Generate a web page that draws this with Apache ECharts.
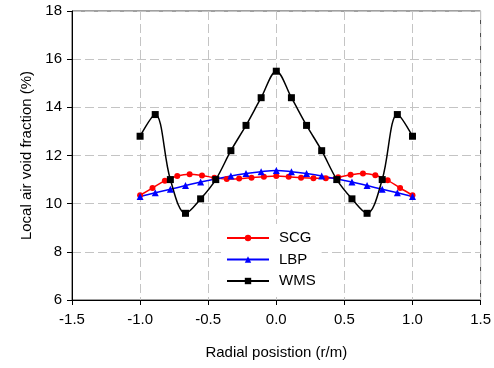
<!DOCTYPE html>
<html>
<head>
<meta charset="utf-8">
<script src="https://cdn.jsdelivr.net/npm/echarts@6/dist/echarts.min.js"></script>
<style>html,body{margin:0;padding:0;background:#fff}#c{width:494px;height:368px}</style>
</head>
<body>
<div id="c"></div>
<script>
// x positions: SCG uses 23 points (step 1/11), LBP and WMS use 19 points (step 1/9)
const xSCG = [-1, -10/11, -9/11, -8/11, -7/11, -6/11, -5/11, -4/11, -3/11, -2/11, -1/11, 0,
              1/11, 2/11, 3/11, 4/11, 5/11, 6/11, 7/11, 8/11, 9/11, 10/11, 1];
const ySCG = [10.35, 10.65, 10.95, 11.15, 11.22, 11.17, 11.08, 11.02, 11.04, 11.08, 11.12, 11.15,
              11.12, 11.08, 11.06, 11.06, 11.1, 11.2, 11.25, 11.18, 10.97, 10.65, 10.35];
const x19 = [-1, -8/9, -7/9, -6/9, -5/9, -4/9, -3/9, -2/9, -1/9, 0,
             1/9, 2/9, 3/9, 4/9, 5/9, 6/9, 7/9, 8/9, 1];
const yLBP = [10.3, 10.45, 10.6, 10.75, 10.9, 11.02, 11.15, 11.25, 11.33, 11.38,
              11.33, 11.25, 11.15, 11.02, 10.9, 10.75, 10.6, 10.45, 10.3];
const yWMS = [12.8, 13.7, 11.0, 9.6, 10.2, 11.0, 12.2, 13.25, 14.4, 15.5,
              14.4, 13.25, 12.2, 11.0, 10.2, 9.6, 11.0, 13.7, 12.8];
const seriesNames = ['SCG', 'LBP', 'WMS'];
const xTitle = 'Radial posistion (r/m)';
const yTitle = 'Local air void fraction (%)';

const zip = (xs, ys) => xs.map((x, i) => [x, ys[i]]);
const font = 'Liberation Sans, Arial, sans-serif';
const chart = echarts.init(document.getElementById('c'));
chart.setOption({
  animation: false,
  backgroundColor: '#fff',
  grid: {left: 72, right: 13, top: 11, bottom: 68, show: true, borderColor: '#404040', borderWidth: 1},
  xAxis: {
    type: 'value', min: -1.5, max: 1.5, interval: 0.5,
    name: xTitle, nameLocation: 'middle', nameGap: 45,
    nameTextStyle: {fontFamily: font, fontSize: 15, color: '#000'},
    axisLine: {show: true, onZero: false, lineStyle: {color: '#000', width: 1}},
    axisTick: {show: true, length: 5, lineStyle: {color: '#000'}},
    axisLabel: {fontFamily: font, fontSize: 15, color: '#000', margin: 12,
      formatter: v => v.toFixed(1)},
    splitLine: {show: true, lineStyle: {color: '#c4c4c4', type: [9, 4], width: 1}}
  },
  yAxis: {
    type: 'value', min: 6, max: 18, interval: 2,
    name: yTitle, nameLocation: 'middle', nameGap: 38, nameRotate: 90,
    nameTextStyle: {fontFamily: font, fontSize: 15, color: '#000'},
    axisLine: {show: true, onZero: false, lineStyle: {color: '#000', width: 1}},
    axisTick: {show: true, length: 5, lineStyle: {color: '#000'}},
    axisLabel: {fontFamily: font, fontSize: 15, color: '#000', margin: 10},
    splitLine: {show: true, lineStyle: {color: '#c4c4c4', type: [9, 4], width: 1}}
  },
  legend: {
    left: 221, top: 224, orient: 'vertical', padding: [6, 6, 6, 5],
    backgroundColor: '#fff',
    itemWidth: 42, itemHeight: 8, itemGap: 5.5,
    textStyle: {fontFamily: font, fontSize: 15, color: '#000', lineHeight: 16, padding: [0, 0, 0, 5]},
    data: seriesNames
  },
  series: [
    {name: seriesNames[0], type: 'line', data: zip(xSCG, ySCG), smooth: 0.35,
     symbol: 'circle', symbolSize: 6,
     lineStyle: {color: '#ff0000', width: 1.5}, itemStyle: {color: '#ff0000'}},
    {name: seriesNames[1], type: 'line', data: zip(x19, yLBP), smooth: 0.35,
     symbol: 'triangle', symbolSize: 7,
     lineStyle: {color: '#0000ff', width: 1.5}, itemStyle: {color: '#0000ff'}},
    {name: seriesNames[2], type: 'line', data: zip(x19, yWMS), smooth: 0.35,
     symbol: 'rect', symbolSize: 7,
     lineStyle: {color: '#000000', width: 1.5}, itemStyle: {color: '#000000'}}
  ]
});
</script>
</body>
</html>
